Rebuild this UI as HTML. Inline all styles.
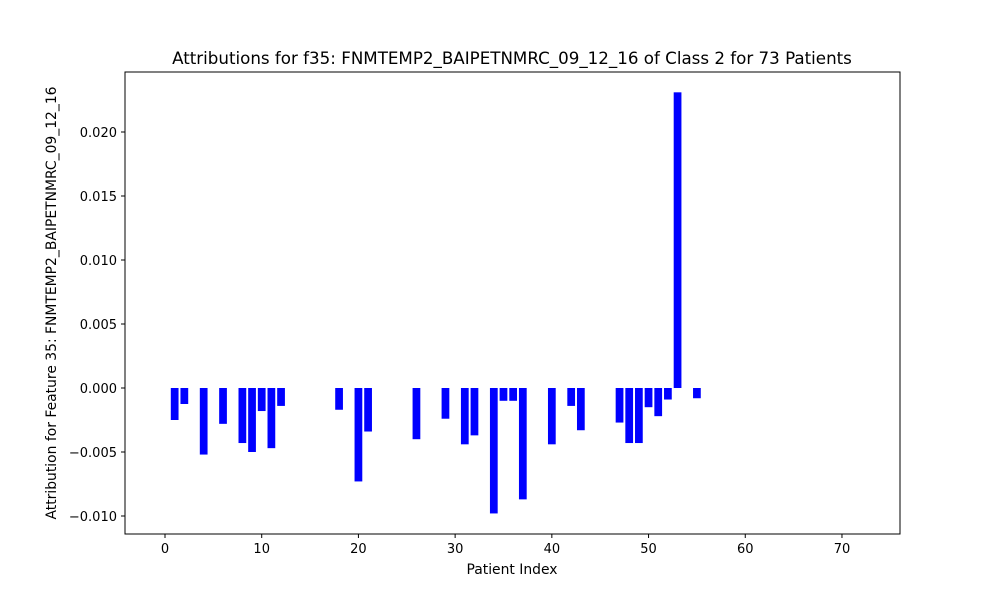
<!DOCTYPE html>
<html><head><meta charset="utf-8"><style>
body{margin:0;background:#fff;font-family:"Liberation Sans","DejaVu Sans",sans-serif;}
svg text{font-family:"DejaVu Sans","Liberation Sans",sans-serif;}
</style></head><body>
<svg id="chart" width="1000" height="600">
<rect width="1000" height="600" fill="#fff"/>
<g id="bars"></g>
<g id="axes"></g>
<text x="512" y="64" font-size="16.7" text-anchor="middle">Attributions for f35: FNMTEMP2_BAIPETNMRC_09_12_16 of Class 2 for 73 Patients</text>
<text x="512" y="574" font-size="13.9" text-anchor="middle">Patient Index</text>
<text transform="translate(56,303) rotate(-90)" font-size="13.9" text-anchor="middle">Attribution for Feature 35: FNMTEMP2_BAIPETNMRC_09_12_16</text>
</svg>
<script>
const patientIdx=[1,2,4,6,8,9,10,11,12,18,20,21,26,29,31,32,34,35,36,37,40,42,43,47,48,49,50,51,52,53,55];
const attribution=[-0.0025,-0.00125,-0.0052,-0.0028,-0.0043,-0.0050,-0.0018,-0.0047,-0.0014,-0.0017,-0.0073,-0.0034,-0.0040,-0.0024,-0.0044,-0.0037,-0.0098,-0.0010,-0.0010,-0.0087,-0.0044,-0.0014,-0.0033,-0.0027,-0.0043,-0.0043,-0.0015,-0.0022,-0.0009,0.0231,-0.0008];
const xTicks=[0,10,20,30,40,50,60,70];
const yTicks=[-0.010,-0.005,0.000,0.005,0.010,0.015,0.020];
const yTickLabels=["−0.010","−0.005","0.000","0.005","0.010","0.015","0.020"];
const L=125,R=900,T=72,B=534;
const xs=v=>165+v*9.671;
const ys=v=>388-v*12800;
const NS="http://www.w3.org/2000/svg";
const bars=document.getElementById('bars'),axes=document.getElementById('axes');
function mk(tag,attrs,parent){const e=document.createElementNS(NS,tag);for(const k in attrs)e.setAttribute(k,attrs[k]);parent.appendChild(e);return e;}
patientIdx.forEach((p,i)=>{
 const v=attribution[i];
 const y0=ys(0),y1=ys(v);
 const r=mk('rect',{x:xs(p-0.4),y:Math.min(y0,y1),width:xs(0.8)-xs(0),height:Math.abs(y1-y0),fill:'#0000ff'},bars);
 
 
});
const frame=mk('rect',{x:L,y:T,width:R-L,height:B-T,fill:'none',stroke:'#000','stroke-width':1},axes);


xTicks.forEach(t=>{
 const x=xs(t);
 mk('line',{x1:x,x2:x,y1:B,y2:B+4,stroke:'#000'},axes);
 const tx=mk('text',{x:x,y:B+19,'font-size':13,'text-anchor':'middle'},axes);
 tx.textContent=t;
 
 
});
yTicks.forEach((t,i)=>{
 const y=ys(t);
 mk('line',{x1:L-4,x2:L,y1:y,y2:y,stroke:'#000'},axes);
 const tx=mk('text',{x:L-8,y:y+5,'font-size':13,'text-anchor':'end'},axes);
 tx.textContent=yTickLabels[i];
 
 
});
</script>
</body></html>
